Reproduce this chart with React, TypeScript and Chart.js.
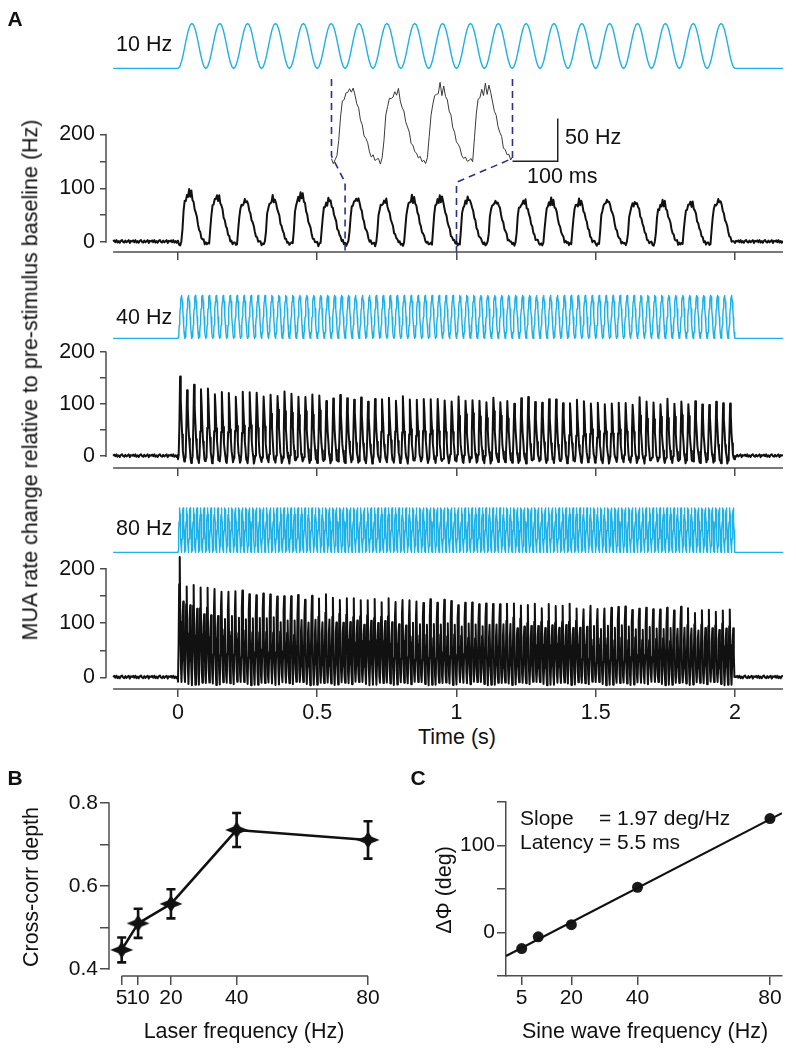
import React, { useEffect, useRef } from "react";
import { Chart, registerables } from "chart.js";

Chart.register(...registerables);

const FONT = "'Liberation Sans', Arial, Helvetica, sans-serif";
const AXIS = "#4d4d4d";
const INK = "#111111";
const BLUE = "#1fb1e6";
const NAVY = "#2b2f8f";

// ---------------- Panel A data ----------------
const timeTicks = [0, 0.5, 1, 1.5, 2];
const muaTicks = [0, 50, 100, 150, 200];
const muaLabeled = [0, 100, 200];
const stimLabels = ["10 Hz", "40 Hz", "80 Hz"];
const stimFreqs = [10, 40, 80];
const stimDuration = 2;
// one cycle of the laser sine (normalised, starts at trough)
const stimCycle = [0, 0.038, 0.146, 0.309, 0.5, 0.691, 0.854, 0.962, 1, 0.962, 0.854, 0.691, 0.5, 0.309, 0.146, 0.038];

// per-cycle MUA peaks (Hz)
const mua10Peaks = [96, 88, 80, 84, 91, 81, 84, 80, 85, 86, 84, 79, 79, 80, 79, 80, 77, 76, 76, 80];
const mua40Peaks = [
  151, 130, 134, 127, 130, 122, 120, 121, 118, 122,
  124, 124, 117, 117, 120, 120, 117, 112, 117, 115,
  115, 106, 114, 114, 111, 112, 111, 106, 112, 112,
  111, 111, 111, 106, 106, 113, 106, 108, 107, 108,
  111, 106, 111, 105, 105, 114, 106, 105, 105, 107,
  111, 102, 106, 106, 107, 102, 105, 105, 105, 105,
  101, 101, 103, 105, 101, 103, 109, 102, 101, 103,
  107, 99, 105, 103, 102, 99, 102, 103, 103, 103,
];
const mua80Tall = [
  220, 170, 168, 165, 162, 160, 161, 160, 158, 160,
  155, 150, 156, 150, 150, 152, 148, 150, 146, 148,
  145, 150, 144, 146, 148, 145, 142, 144, 143, 140,
  143, 140, 145, 141, 138, 140, 142, 137, 140, 138,
  136, 140, 137, 135, 138, 134, 136, 133, 137, 135,
  132, 134, 130, 133, 131, 129, 133, 130, 128, 131,
  126, 129, 127, 131, 128, 125, 129, 127, 124, 128,
  126, 123, 127, 125, 122, 126, 124, 121, 125, 124,
];
const mua80Short = [
  140, 135, 125, 118, 112, 114, 110, 112, 108, 110,
  107, 109, 106, 108, 105, 107, 104, 106, 103, 105,
  103, 104, 102, 103, 101, 103, 100, 102, 100, 101,
  99, 101, 98, 100, 98, 99, 97, 99, 97, 98,
  96, 98, 96, 97, 95, 97, 95, 96, 94, 96,
  94, 95, 93, 95, 93, 94, 92, 94, 92, 93,
  92, 93, 91, 93, 91, 92, 90, 92, 90, 91,
  90, 91, 89, 91, 89, 90, 89, 90, 88, 90,
];
const muaTroughs = [-6, -10, -11];
const wave10 = [0.04, 0.02, 0.02, 0.05, 0.3, 0.62, 0.78, 0.84, 0.9, 0.88, 1.0, 0.9, 0.97, 0.85, 0.78, 0.68, 0.58, 0.48, 0.38, 0.3, 0.22, 0.15, 0.1, 0.08, 0.05];
const wave40 = [0.0, 0.08, 0.45, 1.0, 0.75, 0.5, 0.3, 0.15, 0.05, 0.0];
const wave80 = [0.0, 0.3, 0.8, 1.0, 0.5, 0.15];
const noiseHz = [0, 2.5, -1.5, 3, -2.5, 1, -3, 1.5, 3.5, -1, -2.5, 2, -2, 0.5, 3, -3.5, 1.5];
const baselineHz = 1;
const baselineStep = 0.004;
const insetWindow = [0.6, 1.0];
const insetLinkHz = 111;
const scaleBarOrigin = [1.0, -4.5];
const scaleBarSize = [0.1, 50];

// ---------------- Panel B data ----------------
const bFreqs = [5, 10, 20, 40, 80];
const bDepth = [0.446, 0.51, 0.557, 0.735, 0.711];
const bErr = [0.03, 0.035, 0.035, 0.041, 0.045];
const bYTicks = [0.4, 0.5, 0.6, 0.7, 0.8];
const bYLabeled = [0.4, 0.6, 0.8];

// ---------------- Panel C data ----------------
const cFreqs = [5, 10, 20, 40, 80];
const cPhase = [-18.5, -5, 9, 52, 131];
const cXTicks = [5, 20, 40, 80];
const cYTicks = [-50, 0, 50, 100, 150];
const cYLabeled = [0, 100];
const cFitFreq = [0.26, 83.64];
const cFitPhase = [-27.1, 137.2];

const A_X_MIN = -0.2585;
const A_X_MAX = 2.1724;
const TRACE_START = -0.233;

type P = { x: number; y: number };

function buildStim(freq: number, t0: number, t1: number): P[] {
  const pts: P[] = [{ x: t0, y: 0 }];
  const n = Math.round(stimDuration * freq);
  for (let c = 0; c < n; c++) {
    for (let k = 0; k < stimCycle.length; k++) {
      pts.push({ x: (c + k / stimCycle.length) / freq, y: stimCycle[k] });
    }
  }
  pts.push({ x: stimDuration, y: 0 }, { x: t1, y: 0 });
  return pts;
}

function buildMua(freq: number, peaks: number[], wave: number[], trough: number, amp: number, t0: number, t1: number): P[] {
  const pts: P[] = [];
  const L = noiseHz.length;
  let n = 0;
  for (let t = t0; t < 0; t += baselineStep) pts.push({ x: t, y: baselineHz + noiseHz[n++ % L] * 0.8 });
  for (let c = 0; c < peaks.length; c++) {
    for (let k = 0; k < wave.length; k++) {
      const t = (c + k / wave.length) / freq;
      pts.push({ x: t, y: trough + (peaks[c] - trough) * wave[k] + noiseHz[n++ % L] * amp });
    }
  }
  for (let t = stimDuration; t <= t1; t += baselineStep) pts.push({ x: t, y: baselineHz + noiseHz[n++ % L] * 0.8 });
  return pts;
}

const mua80Peaks = mua80Tall.flatMap((v, i) => [v, mua80Short[i]]);

const axisLines = {
  id: "axisLines",
  afterDraw(chart: any, _args: any, opts: any) {
    const { ctx, chartArea, scales } = chart;
    ctx.save();
    ctx.strokeStyle = AXIS;
    ctx.lineWidth = 1.5;
    if (opts.y) {
      const x = chartArea.left;
      ctx.beginPath();
      ctx.moveTo(x, scales.y.getPixelForValue(opts.y[0]) + 0.75);
      ctx.lineTo(x, scales.y.getPixelForValue(opts.y[1]) - 0.75);
      ctx.stroke();
    }
    if (opts.x) {
      const y = chartArea.bottom;
      ctx.beginPath();
      ctx.moveTo(scales.x.getPixelForValue(opts.x[0]), y);
      ctx.lineTo(scales.x.getPixelForValue(opts.x[1]), y);
      ctx.stroke();
    }
    ctx.restore();
  },
};

const insetLinks = {
  id: "insetLinks",
  afterDatasetsDraw(chart: any) {
    const { ctx, chartArea, scales } = chart;
    const { x, y, x3, y3 } = scales;
    ctx.save();
    ctx.strokeStyle = NAVY;
    ctx.lineWidth = 1.6;
    ctx.setLineDash([7, 5]);
    const draw = (t: number, topHz: number, endHz: number) => {
      ctx.beginPath();
      ctx.moveTo(x3.getPixelForValue(t), y3.getPixelForValue(topHz));
      ctx.lineTo(x3.getPixelForValue(t), y3.getPixelForValue(endHz));
      ctx.lineTo(x.getPixelForValue(t), y.getPixelForValue(insetLinkHz));
      ctx.lineTo(x.getPixelForValue(t), chartArea.bottom);
      ctx.stroke();
    };
    draw(insetWindow[0], 92, 2);
    draw(insetWindow[1], 92, -1);
    ctx.restore();
  },
};

const errorBars = {
  id: "errorBars",
  afterDatasetsDraw(chart: any) {
    const { ctx, scales } = chart;
    const { x, y } = scales;
    ctx.save();
    ctx.strokeStyle = INK;
    ctx.lineWidth = 2.6;
    bFreqs.forEach((f, i) => {
      const px = x.getPixelForValue(f);
      const hi = y.getPixelForValue(bDepth[i] + bErr[i]);
      const lo = y.getPixelForValue(bDepth[i] - bErr[i]);
      ctx.beginPath();
      ctx.moveTo(px, hi);
      ctx.lineTo(px, lo);
      ctx.moveTo(px - 4.5, hi);
      ctx.lineTo(px + 4.5, hi);
      ctx.moveTo(px - 4.5, lo);
      ctx.lineTo(px + 4.5, lo);
      ctx.stroke();
    });
    ctx.restore();
  },
};

const tickFont = (size: number) => ({ family: FONT, size });

const panelA = [
  { top: 0, height: 270, padTop: 4, padBottom: 0, xHeight: 11, yMin: -18.8, yMax: 417.1, sMin: -4.082, sMax: 1.1224, labels: false },
  { top: 262, height: 224, padTop: 4, padBottom: 0, xHeight: 10, yMin: -22.93, yMax: 339.1, sMin: -3.015, sMax: 1.36, labels: false },
  { top: 482, height: 240, padTop: 4, padBottom: 3, xHeight: 30, yMin: -21.08, yMax: 326.8, sMin: -3.082, sMax: 1.183, labels: true },
];
const traceWidths = [2.0, 2.0, 2.0];
const noiseAmps = [1.0, 1.2, 0.9];

const baseOptions = {
  animation: false,
  responsive: false,
  events: [],
  elements: { line: { tension: 0, borderJoinStyle: "round" }, point: { radius: 0 } },
};

function makeA(canvas: HTMLCanvasElement, i: number) {
  const p = panelA[i];
  const freq = stimFreqs[i];
  const peaks = i === 0 ? mua10Peaks : i === 1 ? mua40Peaks : mua80Peaks;
  const wave = i === 0 ? wave10 : i === 1 ? wave40 : wave80;
  const mua = buildMua(freq, peaks, wave, muaTroughs[i], noiseAmps[i], TRACE_START, A_X_MAX);
  const datasets: any[] = [
    { data: buildStim(freq, TRACE_START, A_X_MAX), xAxisID: "x", yAxisID: "y2", borderColor: BLUE, borderWidth: 1.4, pointRadius: 0 },
    { data: mua, xAxisID: "x", yAxisID: "y", borderColor: INK, borderWidth: traceWidths[i], pointRadius: 0 },
  ];
  const scales: any = {
    x: {
      type: "linear", bounds: "data", min: A_X_MIN, max: A_X_MAX,
      afterBuildTicks: (s: any) => { s.ticks = timeTicks.map((v) => ({ value: v })); },
      afterFit: (s: any) => { s.height = p.xHeight; },
      grid: { drawOnChartArea: false, drawTicks: true, tickLength: 8, color: AXIS, lineWidth: 1.5 },
      border: { display: false },
      ticks: { display: p.labels, autoSkip: false, maxRotation: 0, padding: 3, color: INK, font: tickFont(21.5), callback: (v: any) => String(Number(v)) },
    },
    y: {
      type: "linear", position: "left", bounds: "data", min: p.yMin, max: p.yMax,
      afterBuildTicks: (s: any) => { s.ticks = muaTicks.map((v) => ({ value: v })); },
      afterFit: (s: any) => { s.width = 106; },
      grid: { drawOnChartArea: false, drawTicks: true, tickLength: 6, color: AXIS, lineWidth: 1.5 },
      border: { display: false },
      ticks: { autoSkip: false, padding: 5, color: INK, font: tickFont(21.5), callback: (v: any) => (muaLabeled.includes(Number(v)) ? String(v) : "") },
    },
    y2: { type: "linear", display: false, bounds: "data", min: p.sMin, max: p.sMax },
  };
  const plugins: any[] = [axisLines];
  if (i === 0) {
    const insetPts = mua.filter((pt) => pt.x >= insetWindow[0] - 1e-9 && pt.x <= insetWindow[1] + 1e-9);
    datasets.push({ data: insetPts, xAxisID: "x3", yAxisID: "y3", borderColor: "#3a3a3a", borderWidth: 1, pointRadius: 0 });
    datasets.push({
      data: [
        { x: scaleBarOrigin[0], y: scaleBarOrigin[1] },
        { x: scaleBarOrigin[0] + scaleBarSize[0], y: scaleBarOrigin[1] },
        { x: scaleBarOrigin[0] + scaleBarSize[0], y: scaleBarOrigin[1] + scaleBarSize[1] },
      ],
      xAxisID: "x3", yAxisID: "y3", borderColor: "#222", borderWidth: 1.5, pointRadius: 0, borderJoinStyle: "miter",
    });
    scales.x3 = { type: "linear", display: false, bounds: "data", min: 0.1017, max: 1.5978 };
    scales.y3 = { type: "linear", display: false, bounds: "data", min: -110.75, max: 163.4 };
    plugins.push(insetLinks);
  }
  return new Chart(canvas, {
    type: "line",
    data: { datasets },
    options: {
      ...baseOptions,
      layout: { padding: { left: 0, right: 13, top: p.padTop, bottom: p.padBottom } },
      scales,
      plugins: { legend: { display: false }, tooltip: { enabled: false }, axisLines: { x: [TRACE_START, A_X_MAX], y: [0, 200] } },
    } as any,
    plugins,
  });
}

function makeStar(): HTMLCanvasElement {
  const c = document.createElement("canvas");
  c.width = 24;
  c.height = 18;
  const g = c.getContext("2d")!;
  g.fillStyle = INK;
  g.beginPath();
  g.moveTo(12, 0.5);
  g.lineTo(15.5, 5.8);
  g.lineTo(23.5, 9);
  g.lineTo(15.5, 12.2);
  g.lineTo(12, 17.5);
  g.lineTo(8.5, 12.2);
  g.lineTo(0.5, 9);
  g.lineTo(8.5, 5.8);
  g.closePath();
  g.fill();
  return c;
}

function makeB(canvas: HTMLCanvasElement) {
  return new Chart(canvas, {
    type: "line",
    data: {
      datasets: [
        {
          data: bFreqs.map((f, i) => ({ x: f, y: bDepth[i] })),
          borderColor: INK, borderWidth: 2.6, pointStyle: makeStar(), pointRadius: 10, backgroundColor: INK,
        },
      ],
    },
    options: {
      ...baseOptions,
      layout: { padding: { left: 0, right: 20, top: 40, bottom: 34 } },
      scales: {
        x: {
          type: "linear", bounds: "data", min: 1.133, max: 83.65,
          afterBuildTicks: (s: any) => { s.ticks = bFreqs.map((v) => ({ value: v })); },
          afterFit: (s: any) => { s.height = 40; },
          grid: { drawOnChartArea: false, drawTicks: true, tickLength: 9, color: AXIS, lineWidth: 1.5 },
          border: { display: false },
          ticks: { autoSkip: false, maxRotation: 0, padding: 1, color: INK, font: tickFont(21), callback: (v: any) => String(Number(v)) },
        },
        y: {
          type: "linear", bounds: "data", min: 0.3831, max: 0.8313,
          afterBuildTicks: (s: any) => { s.ticks = bYTicks.map((v) => ({ value: v })); },
          afterFit: (s: any) => { s.width = 109; },
          grid: { drawOnChartArea: false, drawTicks: true, tickLength: 9, color: AXIS, lineWidth: 1.5 },
          border: { display: false },
          ticks: { autoSkip: false, padding: 2, color: INK, font: tickFont(21), callback: (v: any) => (bYLabeled.some((l) => Math.abs(l - v) < 1e-9) ? Number(v).toFixed(1) : "") },
        },
      },
      plugins: { legend: { display: false }, tooltip: { enabled: false }, axisLines: { x: [5, 80], y: [0.4, 0.8] } },
    } as any,
    plugins: [axisLines, errorBars],
  });
}

function makeC(canvas: HTMLCanvasElement) {
  return new Chart(canvas, {
    type: "line",
    data: {
      datasets: [
        { data: cFitFreq.map((f, i) => ({ x: f, y: cFitPhase[i] })), borderColor: INK, borderWidth: 2.2, pointRadius: 0 },
        { data: cFreqs.map((f, i) => ({ x: f, y: cPhase[i] })), showLine: false, pointRadius: 5.5, pointBackgroundColor: "#1a1a1a", pointBorderWidth: 0 },
      ],
    },
    options: {
      ...baseOptions,
      layout: { padding: { left: 0, right: 14, top: 52, bottom: 34 } },
      scales: {
        x: {
          type: "linear", bounds: "data", min: 0.257, max: 83.64,
          afterBuildTicks: (s: any) => { s.ticks = cXTicks.map((v) => ({ value: v })); },
          afterFit: (s: any) => { s.height = 40; },
          grid: { drawOnChartArea: false, drawTicks: true, tickLength: 9, color: AXIS, lineWidth: 1.5 },
          border: { display: true, color: AXIS, width: 1.5 },
          ticks: { autoSkip: false, maxRotation: 0, padding: 1, color: INK, font: tickFont(21), callback: (v: any) => String(Number(v)) },
        },
        y: {
          type: "linear", bounds: "data", min: -50, max: 150,
          afterBuildTicks: (s: any) => { s.ticks = cYTicks.map((v) => ({ value: v })); },
          afterFit: (s: any) => { s.width = 106; },
          grid: { drawOnChartArea: false, drawTicks: true, tickLength: 9, color: AXIS, lineWidth: 1.5 },
          border: { display: true, color: AXIS, width: 1.5 },
          ticks: { autoSkip: false, padding: 2, color: INK, font: tickFont(21), callback: (v: any) => (cYLabeled.includes(Number(v)) ? String(v) : "") },
        },
      },
      plugins: { legend: { display: false }, tooltip: { enabled: false } },
    } as any,
  });
}

function ChartBox({ left, top, width, height, make }: { left: number; top: number; width: number; height: number; make: (c: HTMLCanvasElement) => Chart }) {
  const ref = useRef<HTMLCanvasElement>(null);
  useEffect(() => {
    const chart = make(ref.current!);
    return () => chart.destroy();
  }, []);
  return (
    <div style={{ position: "absolute", left, top, width, height }}>
      <canvas ref={ref} width={width} height={height} style={{ width, height, display: "block" }} />
    </div>
  );
}

function Txt({ x, y, text, rotate = false, bold = false, size = 21.5, align = "center" }: { x: number; y: number; text: string; rotate?: boolean; bold?: boolean; size?: number; align?: string }) {
  const tf = rotate ? "translate(-50%, -50%) rotate(-90deg)" : align === "left" ? "translate(0, -50%)" : "translate(-50%, -50%)";
  return (
    <div
      style={{
        position: "absolute", left: x, top: y, transform: tf, whiteSpace: "pre", fontFamily: FONT,
        fontSize: size, fontWeight: bold ? 700 : 400, color: INK, lineHeight: 1,
      }}
    >
      {text}
    </div>
  );
}

export default function App() {
  return (
    <div style={{ position: "absolute", left: 0, top: 0, width: 796, height: 1050, background: "#fff", overflow: "hidden" }}>
      {panelA.map((p, i) => (
        <ChartBox key={i} left={0} top={p.top} width={796} height={p.height} make={(c) => makeA(c, i)} />
      ))}
      <ChartBox left={0} top={750} width={400} height={300} make={makeB} />
      <ChartBox left={400} top={750} width={396} height={300} make={makeC} />

      <Txt x={15} y={18} text="A" bold size={21} />
      <Txt x={116} y={45} text={stimLabels[0]} align="left" />
      <Txt x={116} y={318} text={stimLabels[1]} align="left" />
      <Txt x={116} y={529} text={stimLabels[2]} align="left" />
      <Txt x={565} y={138} text="50 Hz" align="left" />
      <Txt x={527} y={177} text="100 ms" align="left" />
      <Txt x={31} y={380} text="MUA rate change relative to pre-stimulus baseline (Hz)" rotate />
      <Txt x={457} y={738} text="Time (s)" />

      <Txt x={15} y={777} text="B" bold size={21} />
      <Txt x={32} y={887} text="Cross-corr depth" rotate />
      <Txt x={244} y={1032} text="Laser frequency (Hz)" />

      <Txt x={418} y={777} text="C" bold size={21} />
      <Txt x={445} y={890} text="ΔΦ (deg)" rotate />
      <Txt x={645} y={1032} text="Sine wave frequency (Hz)" />
      <Txt x={520} y={817} text="Slope" align="left" size={21} />
      <Txt x={599} y={817} text="= 1.97 deg/Hz" align="left" size={21} />
      <Txt x={520} y={841} text="Latency" align="left" size={21} />
      <Txt x={599} y={841} text="= 5.5 ms" align="left" size={21} />
    </div>
  );
}
